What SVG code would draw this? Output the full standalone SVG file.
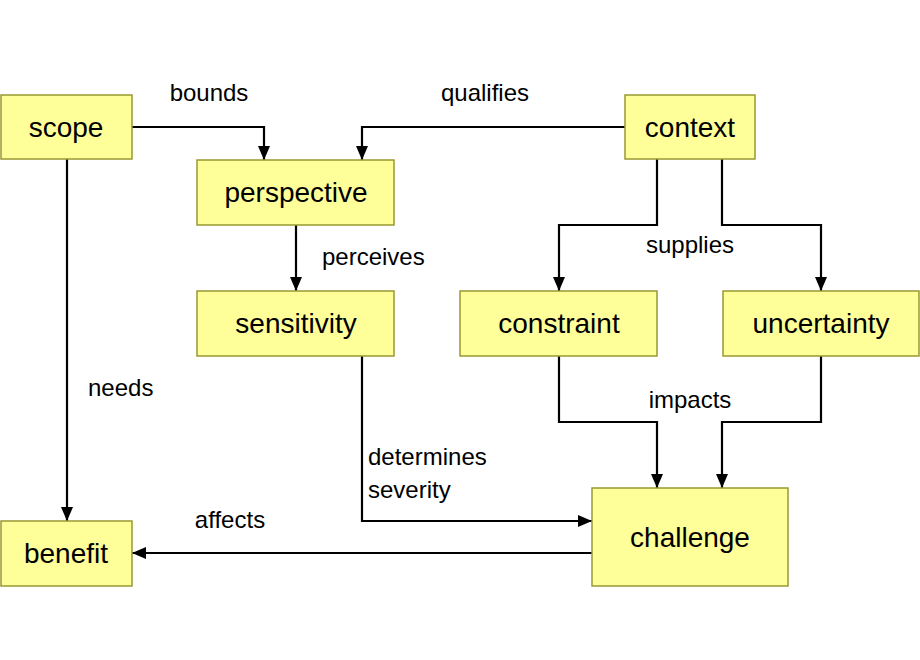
<svg xmlns="http://www.w3.org/2000/svg" width="920" height="660" viewBox="0 0 920 660">
<style>
.n rect{fill:#ffff99;stroke:#999933;stroke-width:1.5}
.n text{font-family:"Liberation Sans",Arial,sans-serif;font-size:28px;text-anchor:middle;fill:#000}
.c path{fill:none;stroke:#000;stroke-width:2.2;marker-end:url(#a)}
.l{font-family:"Liberation Sans",Arial,sans-serif;font-size:24px;fill:#000}
</style>
<defs><marker id="a" viewBox="0 0 14 12" refX="14" refY="6" markerWidth="14" markerHeight="12" markerUnits="userSpaceOnUse" orient="auto"><path d="M0,0L14,6L0,12z" fill="#000"/></marker></defs>
<rect width="920" height="660" fill="#fff"/>
<g class="c">
<path d="M132,127H264V160"/>
<path d="M625,127H362V160"/>
<path d="M296,225V291"/>
<path d="M657,159V225H559V291"/>
<path d="M722,159V225H821V291"/>
<path d="M67,159V521"/>
<path d="M362,356V521H592"/>
<path d="M559,356V422H657V488"/>
<path d="M821,356V422H722V488"/>
<path d="M592,553H132"/>
</g>
<g id="scope" class="n"><rect x="1" y="95" width="131" height="64"/><text x="66" y="137">scope</text></g>
<g id="perspective" class="n"><rect x="197" y="160" width="197" height="65"/><text x="296" y="202">perspective</text></g>
<g id="context" class="n"><rect x="625" y="95" width="130" height="64"/><text x="690" y="137">context</text></g>
<g id="sensitivity" class="n"><rect x="197" y="291" width="197" height="65"/><text x="296" y="333">sensitivity</text></g>
<g id="constraint" class="n"><rect x="460" y="291" width="197" height="65"/><text x="559" y="333">constraint</text></g>
<g id="uncertainty" class="n"><rect x="723" y="291" width="196" height="65"/><text x="821" y="333">uncertainty</text></g>
<g id="benefit" class="n"><rect x="1" y="521" width="131" height="65"/><text x="66" y="563">benefit</text></g>
<g id="challenge" class="n"><rect x="592" y="488" width="196" height="98"/><text x="690" y="547">challenge</text></g>
<g class="l">
<text x="209" y="101" text-anchor="middle">bounds</text>
<text x="485" y="101" text-anchor="middle">qualifies</text>
<text x="322" y="265">perceives</text>
<text x="690" y="253" text-anchor="middle">supplies</text>
<text x="88" y="396">needs</text>
<text x="690" y="408" text-anchor="middle">impacts</text>
<text x="368" y="465">determines</text>
<text x="368" y="498">severity</text>
<text x="230" y="528" text-anchor="middle">affects</text>
</g>
</svg>
